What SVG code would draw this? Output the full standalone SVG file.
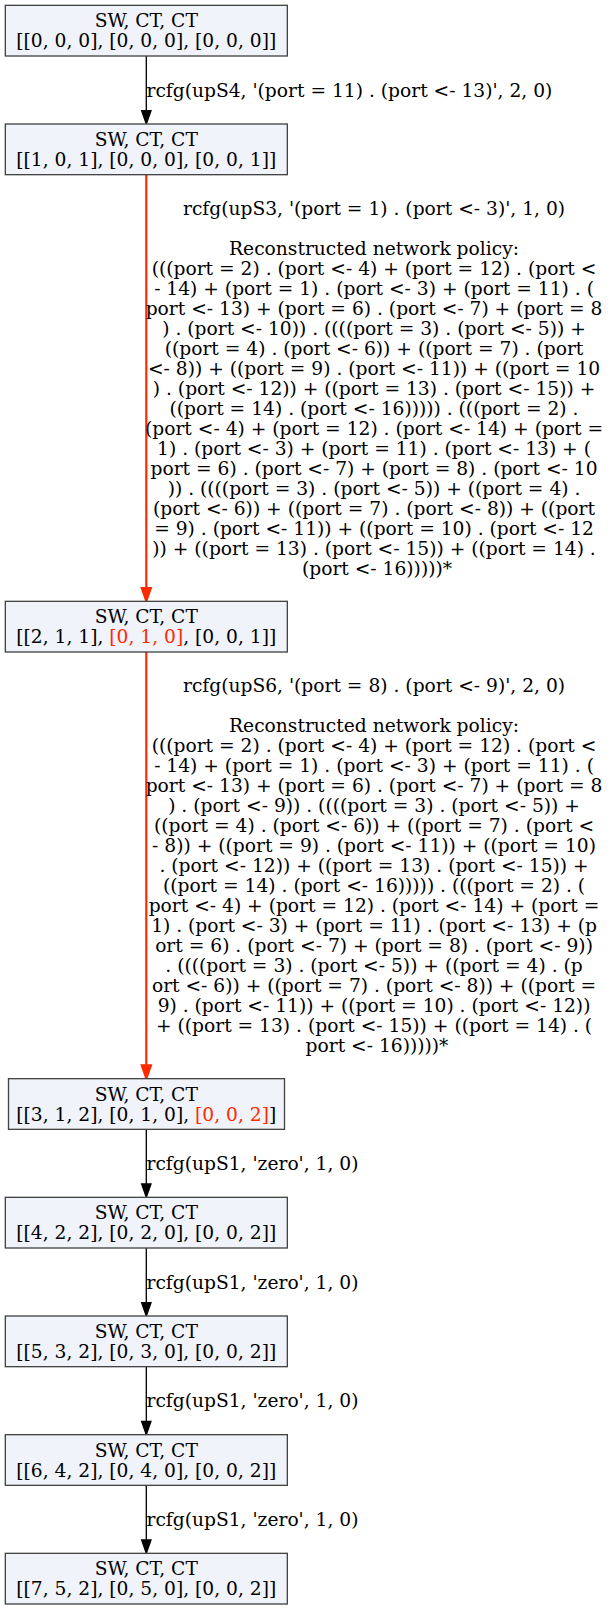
<svg xmlns="http://www.w3.org/2000/svg" width="613" height="1609" viewBox="0 0 613 1609">
<style>
  .node rect { fill: #f0f3fa; stroke: #444444; stroke-width: 1.33; }
  text { font-family: "DejaVu Serif", "Liberation Serif", serif; font-size: 18.67px; fill: #000000; }
  .nt { text-anchor: middle; }
  .hl { fill: #ff2a00; }
  .lbl { text-anchor: middle; }
  .e-black { stroke: #000000; stroke-width: 1.33; fill: none; }
  .e-red { stroke: #ff2a00; stroke-width: 2.2; fill: none; }
</style>
<defs>
  <marker id="ab" markerUnits="userSpaceOnUse" markerWidth="14" markerHeight="10" refX="0" refY="4.67" orient="auto" overflow="visible">
    <path d="M0,0 L13.33,4.67 L0,9.33 Z" fill="#000000" stroke="#000000" stroke-width="1.33"/>
  </marker>
  <marker id="ar" markerUnits="userSpaceOnUse" markerWidth="14" markerHeight="10" refX="0" refY="4.67" orient="auto" overflow="visible">
    <path d="M0,0 L13.33,4.67 L0,9.33 Z" fill="#ff2a00" stroke="#ff2a00" stroke-width="2"/>
  </marker>
</defs>
<rect x="0" y="0" width="613" height="1609" fill="#ffffff"/>

<g id="connectors">
  <line class="e-black" x1="146.3" y1="56" x2="146.3" y2="110.67" marker-end="url(#ab)"/>
  <text x="146.5" y="96.5">rcfg(upS4, '(port = 11) . (port &lt;- 13)', 2, 0)</text>

  <line class="e-red" x1="146.3" y1="174.67" x2="146.3" y2="588" marker-end="url(#ar)"/>
  <text class="lbl">
    <tspan x="377" y="214.5">rcfg(upS3, '(port = 1) . (port &lt;- 3)', 1, 0)</tspan>
    <tspan x="377" dy="40">Reconstructed network policy:</tspan>
    <tspan x="377" dy="20">(((port = 2) . (port &lt;- 4) + (port = 12) . (port &lt;</tspan>
    <tspan x="377" dy="20">- 14) + (port = 1) . (port &lt;- 3) + (port = 11) . (</tspan>
    <tspan x="377" dy="20">port &lt;- 13) + (port = 6) . (port &lt;- 7) + (port = 8</tspan>
    <tspan x="377" dy="20">) . (port &lt;- 10)) . ((((port = 3) . (port &lt;- 5)) +</tspan>
    <tspan x="377" dy="20">((port = 4) . (port &lt;- 6)) + ((port = 7) . (port</tspan>
    <tspan x="377" dy="20">&lt;- 8)) + ((port = 9) . (port &lt;- 11)) + ((port = 10</tspan>
    <tspan x="377" dy="20">) . (port &lt;- 12)) + ((port = 13) . (port &lt;- 15)) +</tspan>
    <tspan x="377" dy="20">((port = 14) . (port &lt;- 16))))) . (((port = 2) .</tspan>
    <tspan x="377" dy="20">(port &lt;- 4) + (port = 12) . (port &lt;- 14) + (port =</tspan>
    <tspan x="377" dy="20">1) . (port &lt;- 3) + (port = 11) . (port &lt;- 13) + (</tspan>
    <tspan x="377" dy="20">port = 6) . (port &lt;- 7) + (port = 8) . (port &lt;- 10</tspan>
    <tspan x="377" dy="20">)) . ((((port = 3) . (port &lt;- 5)) + ((port = 4) .</tspan>
    <tspan x="377" dy="20">(port &lt;- 6)) + ((port = 7) . (port &lt;- 8)) + ((port</tspan>
    <tspan x="377" dy="20">= 9) . (port &lt;- 11)) + ((port = 10) . (port &lt;- 12</tspan>
    <tspan x="377" dy="20">)) + ((port = 13) . (port &lt;- 15)) + ((port = 14) .</tspan>
    <tspan x="377" dy="20">(port &lt;- 16)))))*</tspan>
  </text>

  <line class="e-red" x1="146.3" y1="652" x2="146.3" y2="1065.33" marker-end="url(#ar)"/>
  <text class="lbl">
    <tspan x="377" y="691.8">rcfg(upS6, '(port = 8) . (port &lt;- 9)', 2, 0)</tspan>
    <tspan x="377" dy="40">Reconstructed network policy:</tspan>
    <tspan x="377" dy="20">(((port = 2) . (port &lt;- 4) + (port = 12) . (port &lt;</tspan>
    <tspan x="377" dy="20">- 14) + (port = 1) . (port &lt;- 3) + (port = 11) . (</tspan>
    <tspan x="377" dy="20">port &lt;- 13) + (port = 6) . (port &lt;- 7) + (port = 8</tspan>
    <tspan x="377" dy="20">) . (port &lt;- 9)) . ((((port = 3) . (port &lt;- 5)) +</tspan>
    <tspan x="377" dy="20">((port = 4) . (port &lt;- 6)) + ((port = 7) . (port &lt;</tspan>
    <tspan x="377" dy="20">- 8)) + ((port = 9) . (port &lt;- 11)) + ((port = 10)</tspan>
    <tspan x="377" dy="20">. (port &lt;- 12)) + ((port = 13) . (port &lt;- 15)) +</tspan>
    <tspan x="377" dy="20">((port = 14) . (port &lt;- 16))))) . (((port = 2) . (</tspan>
    <tspan x="377" dy="20">port &lt;- 4) + (port = 12) . (port &lt;- 14) + (port =</tspan>
    <tspan x="377" dy="20">1) . (port &lt;- 3) + (port = 11) . (port &lt;- 13) + (p</tspan>
    <tspan x="377" dy="20">ort = 6) . (port &lt;- 7) + (port = 8) . (port &lt;- 9))</tspan>
    <tspan x="377" dy="20">. ((((port = 3) . (port &lt;- 5)) + ((port = 4) . (p</tspan>
    <tspan x="377" dy="20">ort &lt;- 6)) + ((port = 7) . (port &lt;- 8)) + ((port =</tspan>
    <tspan x="377" dy="20">9) . (port &lt;- 11)) + ((port = 10) . (port &lt;- 12))</tspan>
    <tspan x="377" dy="20">+ ((port = 13) . (port &lt;- 15)) + ((port = 14) . (</tspan>
    <tspan x="377" dy="20">port &lt;- 16)))))*</tspan>
  </text>

  <line class="e-black" x1="146.3" y1="1129.33" x2="146.3" y2="1184" marker-end="url(#ab)"/>
  <text x="146.5" y="1169.8">rcfg(upS1, 'zero', 1, 0)</text>

  <line class="e-black" x1="146.3" y1="1248" x2="146.3" y2="1302.67" marker-end="url(#ab)"/>
  <text x="146.5" y="1288.5">rcfg(upS1, 'zero', 1, 0)</text>

  <line class="e-black" x1="146.3" y1="1366.67" x2="146.3" y2="1421.33" marker-end="url(#ab)"/>
  <text x="146.5" y="1407.2">rcfg(upS1, 'zero', 1, 0)</text>

  <line class="e-black" x1="146.3" y1="1485.33" x2="146.3" y2="1540" marker-end="url(#ab)"/>
  <text x="146.5" y="1525.8">rcfg(upS1, 'zero', 1, 0)</text>
</g>

<g id="n0" class="node">
  <rect x="5.33" y="5.33" width="282" height="50.67"/>
  <text class="nt" x="146.3" y="27.2">SW, CT, CT</text>
  <text class="nt" x="146.3" y="47.2">[[0, 0, 0], [0, 0, 0], [0, 0, 0]]</text>
</g>
<g id="n1" class="node">
  <rect x="5.33" y="124" width="282" height="50.67"/>
  <text class="nt" x="146.3" y="145.8">SW, CT, CT</text>
  <text class="nt" x="146.3" y="165.8">[[1, 0, 1], [0, 0, 0], [0, 0, 1]]</text>
</g>
<g id="n2" class="node">
  <rect x="5.33" y="601.33" width="282" height="50.67"/>
  <text class="nt" x="146.3" y="623.2">SW, CT, CT</text>
  <text class="nt" x="146.3" y="643.2">[[2, 1, 1], <tspan class="hl">[0, 1, 0]</tspan>, [0, 0, 1]]</text>
</g>
<g id="n3" class="node">
  <rect x="8.5" y="1078.67" width="276" height="50.67"/>
  <text class="nt" x="146.3" y="1100.5">SW, CT, CT</text>
  <text class="nt" x="146.3" y="1120.5">[[3, 1, 2], [0, 1, 0], <tspan class="hl">[0, 0, 2]</tspan>]</text>
</g>
<g id="n4" class="node">
  <rect x="5.33" y="1197.33" width="282" height="50.67"/>
  <text class="nt" x="146.3" y="1219.2">SW, CT, CT</text>
  <text class="nt" x="146.3" y="1239.2">[[4, 2, 2], [0, 2, 0], [0, 0, 2]]</text>
</g>
<g id="n5" class="node">
  <rect x="5.33" y="1316" width="282" height="50.67"/>
  <text class="nt" x="146.3" y="1337.8">SW, CT, CT</text>
  <text class="nt" x="146.3" y="1357.8">[[5, 3, 2], [0, 3, 0], [0, 0, 2]]</text>
</g>
<g id="n6" class="node">
  <rect x="5.33" y="1434.67" width="282" height="50.67"/>
  <text class="nt" x="146.3" y="1456.5">SW, CT, CT</text>
  <text class="nt" x="146.3" y="1476.5">[[6, 4, 2], [0, 4, 0], [0, 0, 2]]</text>
</g>
<g id="n7" class="node">
  <rect x="5.33" y="1553.33" width="282" height="50.67"/>
  <text class="nt" x="146.3" y="1575.2">SW, CT, CT</text>
  <text class="nt" x="146.3" y="1595.2">[[7, 5, 2], [0, 5, 0], [0, 0, 2]]</text>
</g>
</svg>
